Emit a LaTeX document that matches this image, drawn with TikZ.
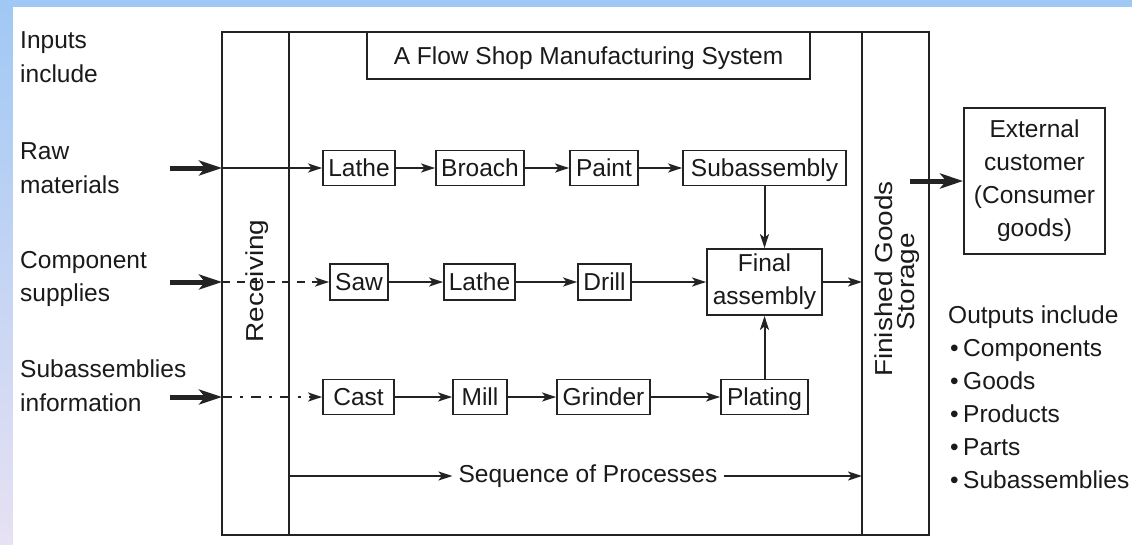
\documentclass[tikz,border=0pt]{standalone}
\usepackage{fontspec}
\setmainfont{Liberation Sans}
\usetikzlibrary{arrows.meta}
\definecolor{linec}{HTML}{232323}
\definecolor{txtc}{HTML}{1A1A1A}
\definecolor{bandtop}{HTML}{A0C8F4}
\definecolor{bandbot}{HTML}{E7E1F3}
\begin{document}
\begin{tikzpicture}[x=1pt,y=-1pt,
  every node/.style={font=\fontsize{24.5pt}{33pt}\selectfont, text=txtc},
  pbox/.style={draw=linec, line width=1.8pt, inner sep=0pt, minimum height=35pt},
  onel/.style={text height=20pt, text depth=3pt},
  lbl/.style={inner sep=0pt, anchor=base west},
  rlbl/.style={inner sep=0pt, anchor=base, rotate=90},
  frame/.style={draw=linec, line width=1.8pt},
  arr/.style={draw=linec, line width=2pt, -{Stealth[length=14pt,width=9pt,inset=3.5pt]}},
  thickarr/.style={draw=linec, line width=5pt, -{Stealth[length=23pt,width=15pt,inset=6pt]}}
]
\useasboundingbox (0,0) rectangle (1132,544);
\fill[white] (0,0) rectangle (1132,544);
\shade[top color=bandtop, bottom color=bandbot] (0,0) rectangle (12.7,544);
\fill[bandtop] (0,0) rectangle (1132,7);

% frame
\draw[frame] (222,32) rectangle (929,535);
\draw[frame] (289,32) -- (289,535);
\draw[frame] (862,32) -- (862,535);

\node[pbox, onel, minimum width=443pt, minimum height=47pt] (title) at (588.5,55.5) {A Flow Shop Manufacturing System};

% rotated labels
\node[rlbl] (recv) at (263,281) {\scalebox{1.14}[1]{Receiving}};
\node[rlbl] (fg1) at (892,279) {\scalebox{1.14}[1]{Finished Goods}};
\node[rlbl] (fg2) at (914.5,282) {\scalebox{1.14}[1]{Storage}};

% row 1
\node[pbox, onel, minimum width=72pt] (lathe1) at (359,168) {Lathe};
\node[pbox, onel, minimum width=88pt] (broach) at (480,168) {Broach};
\node[pbox, onel, minimum width=68pt] (paint) at (604,168) {Paint};
\node[pbox, onel, minimum width=163pt] (subasm) at (764.5,168) {Subassembly};
% row 2
\node[pbox, onel, minimum width=58pt, minimum height=36pt] (saw) at (359,282) {Saw};
\node[pbox, onel, minimum width=71pt, minimum height=36pt] (lathe2) at (479.5,282) {Lathe};
\node[pbox, onel, minimum width=53pt, minimum height=36pt] (drill) at (604.5,282) {Drill};
\node[pbox, minimum width=115pt, minimum height=66pt, align=center] (final) at (764.5,282) {Final\\assembly};
% row 3
\node[pbox, onel, minimum width=71pt] (cast) at (358.5,397) {Cast};
\node[pbox, onel, minimum width=54pt] (mill) at (480,397) {Mill};
\node[pbox, onel, minimum width=93pt] (grinder) at (603.5,397) {Grinder};
\node[pbox, onel, minimum width=87pt] (plating) at (764.5,397) {Plating};

% external customer
\node[pbox, minimum width=141pt, minimum height=146pt, align=center] (ext) at (1034.5,181) {External\\customer\\(Consumer\\goods)};

% left labels
\node[lbl] (in1) at (20,48) {Inputs};
\node[lbl] (in2) at (20,82) {include};
\node[lbl] (raw1) at (20,159) {Raw};
\node[lbl] (raw2) at (20,193) {materials};
\node[lbl] (cmp1) at (20,268) {Component};
\node[lbl] (cmp2) at (20,301) {supplies};
\node[lbl] (sub1) at (20,377) {Subassemblies};
\node[lbl] (sub2) at (20,411) {information};

% outputs
\node[lbl] (out0) at (948,323) {Outputs include};
\node[lbl] (out1) at (950,356) {\makebox[13pt][l]{•}Components};
\node[lbl] (out2) at (950,389) {\makebox[13pt][l]{•}Goods};
\node[lbl] (out3) at (950,422) {\makebox[13pt][l]{•}Products};
\node[lbl] (out4) at (950,455) {\makebox[13pt][l]{•}Parts};
\node[lbl] (out5) at (950,488) {\makebox[13pt][l]{•}Subassemblies};

% sequence
\node[inner xsep=6pt, inner ysep=0pt] (seq) at (588,476) {Sequence of Processes};
\coordinate (seqL) at (289,476);
\coordinate (seqR) at (862,476);
\draw[arr] (seqL) -- (seq.west);
\draw[arr] (seq.east) -- (seqR);

% input arrows
\coordinate (a1s) at (170,168); \coordinate (a1e) at (222,168);
\coordinate (a2s) at (170,282); \coordinate (a2e) at (222,282);
\coordinate (a3s) at (170,397); \coordinate (a3e) at (222,397);
\draw[thickarr] (a1s) -- (a1e);
\draw[thickarr] (a2s) -- (a2e);
\draw[thickarr] (a3s) -- (a3e);
\draw[arr] (a1e) -- (lathe1);
\draw[arr, dash pattern=on 8pt off 7pt] (a2e) -- (saw);
\draw[arr, dash pattern=on 10pt off 8pt on 3pt off 8pt] (a3e) -- (cast);

% process arrows
\draw[arr] (lathe1) -- (broach);
\draw[arr] (broach) -- (paint);
\draw[arr] (paint) -- (subasm);
\draw[arr] (subasm) -- (final);
\draw[arr] (saw) -- (lathe2);
\draw[arr] (lathe2) -- (drill);
\draw[arr] (drill) -- (final);
\coordinate (fgin) at (862,282);
\draw[arr] (final) -- (fgin);
\draw[arr] (cast) -- (mill);
\draw[arr] (mill) -- (grinder);
\draw[arr] (grinder) -- (plating);
\draw[arr] (plating) -- (final);

% output arrow
\coordinate (o1s) at (910,181);
\draw[thickarr] (o1s) -- (ext.west |- o1s);
\end{tikzpicture}
\end{document}
